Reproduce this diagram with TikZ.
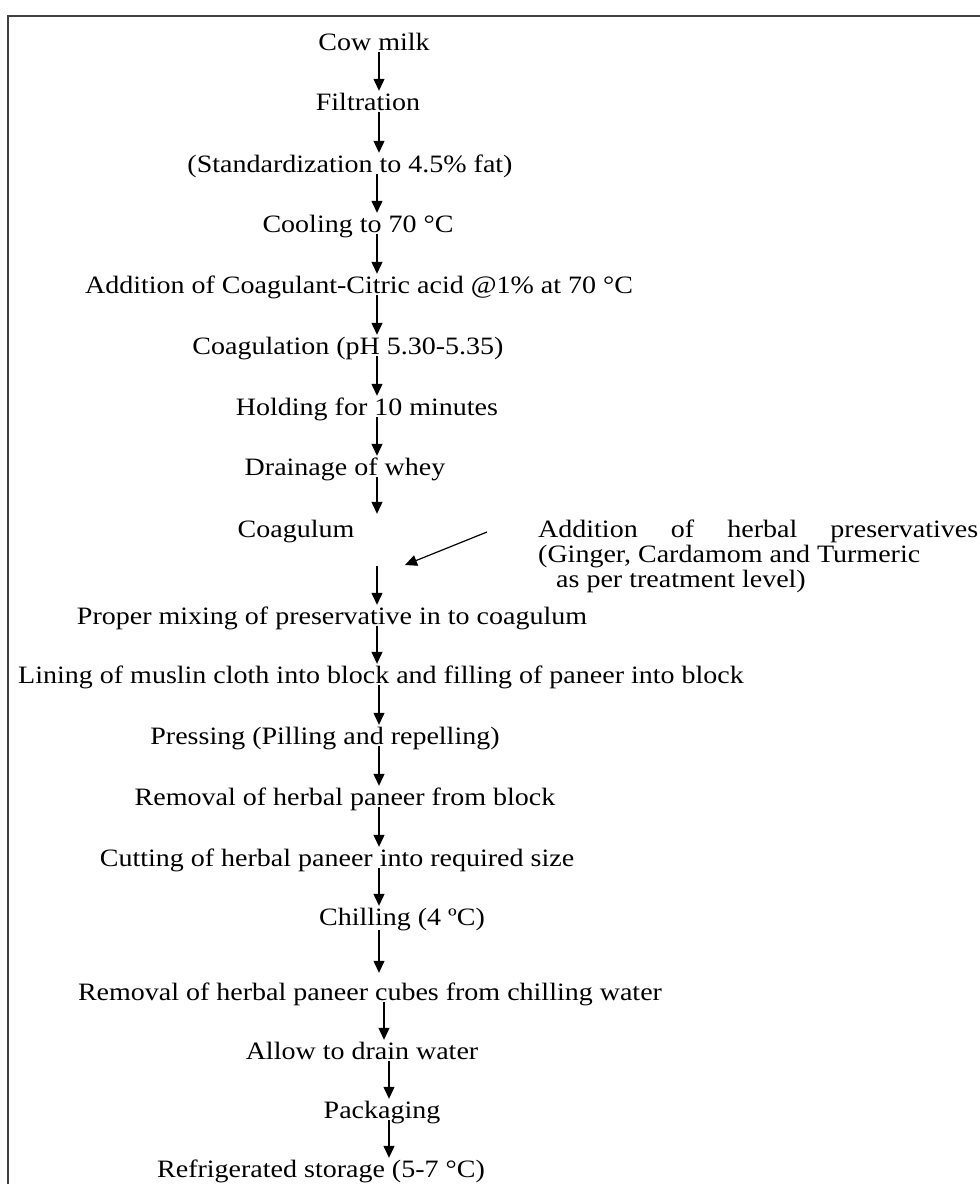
\documentclass[tikz,border=0pt]{standalone}
\usepackage{fontspec}
\setmainfont[FakeStretch=1.12]{Liberation Serif}
\usetikzlibrary{arrows.meta,calc}
\begin{document}
\begin{tikzpicture}[x=1pt,y=-1pt,
  lbl/.style={inner sep=0pt, anchor=base, text height=17pt, text depth=2pt, font=\fontsize{25}{25}\selectfont},
  arr/.style={line width=1.2pt, -{Triangle[length=12pt,width=11pt]}, shorten >=2pt}]
\useasboundingbox (0,0) rectangle (980,1184);
\fill[white] (0,0) rectangle (980,1184);
\draw[black!75, line width=1.8pt] (8,1184) -- (8,16) -- (980,16);

\coordinate (xa) at (377,0);
\coordinate (xb) at (379,0);
\coordinate (xc) at (384,0);
\coordinate (xd) at (389,0);

\node[lbl] (n1) at (374,50) {Cow milk};
\node[lbl] (n2) at (368,110) {Filtration};
\node[lbl] (n3) at (350,172) {(Standardization to 4.5\% fat)};
\node[lbl] (n4) at (358,232) {Cooling to 70 °C};
\node[lbl] (n5) at (359,293) {Addition of Coagulant-Citric acid @1\% at 70 °C};
\node[lbl] (n6) at (348,354) {Coagulation (pH 5.30-5.35)};
\node[lbl] (n7) at (367,415) {Holding for 10 minutes};
\node[lbl] (n8) at (345,475) {Drainage of whey};
\node[lbl] (n9) at (296,537) {Coagulum};
\node[lbl] (n10) at (332,624) {Proper mixing of preservative in to coagulum};
\node[lbl] (n11) at (381,683) {Lining of muslin cloth into block and filling of paneer into block};
\node[lbl] (n12) at (325,744) {Pressing (Pilling and repelling)};
\node[lbl] (n13) at (345,805) {Removal of herbal paneer from block};
\node[lbl] (n14) at (337,866) {Cutting of herbal paneer into required size};
\node[lbl] (n15) at (402,925) {Chilling (4 ºC)};
\node[lbl] (n16) at (370,1000) {Removal of herbal paneer cubes from chilling water};
\node[lbl] (n17) at (362,1059) {Allow to drain water};
\node[lbl] (n18) at (382,1118) {Packaging};
\node[lbl] (n19) at (321,1177) {Refrigerated storage (5-7 °C)};

\node[lbl, anchor=base west] (h1) at (538,537) {\makebox[440pt][s]{Addition of herbal preservatives}};
\node[lbl, anchor=base west] (h2) at (538,562) {(Ginger, Cardamom and Turmeric};
\node[lbl, anchor=base west] (h3) at (556,587) {as per treatment level)};

\draw[arr] (n1.south -| xb) -- (n2.north -| xb);
\draw[arr] (n2.south -| xb) -- (n3.north -| xb);
\draw[arr] (n3.south -| xa) -- (n4.north -| xa);
\draw[arr] (n4.south -| xa) -- (n5.north -| xa);
\draw[arr] (n5.south -| xa) -- (n6.north -| xa);
\draw[arr] (n6.south -| xa) -- (n7.north -| xa);
\draw[arr] (n7.south -| xa) -- (n8.north -| xa);
\draw[arr, shorten >=6pt] (n8.south -| xa) -- (n9.north -| xa);
\coordinate (m1) at (377,566);
\draw[arr] (m1) -- (n10.north -| xa);
\coordinate (hs) at (487,532);
\coordinate (ht) at (405,565);
\draw[arr, shorten >=0pt] (hs) -- (ht);
\draw[arr] (n10.south -| xa) -- (n11.north -| xa);
\draw[arr] (n11.south -| xb) -- (n12.north -| xb);
\draw[arr] (n12.south -| xb) -- (n13.north -| xb);
\draw[arr] (n13.south -| xb) -- (n14.north -| xb);
\draw[arr] (n14.south -| xb) -- (n15.north -| xb);
\draw[arr, shorten <=3pt, shorten >=10pt] (n15.south -| xb) -- (n16.north -| xb);
\draw[arr] (n16.south -| xc) -- (n17.north -| xc);
\draw[arr] (n17.south -| xd) -- (n18.north -| xd);
\draw[arr] (n18.south -| xd) -- (n19.north -| xd);
\end{tikzpicture}
\end{document}
